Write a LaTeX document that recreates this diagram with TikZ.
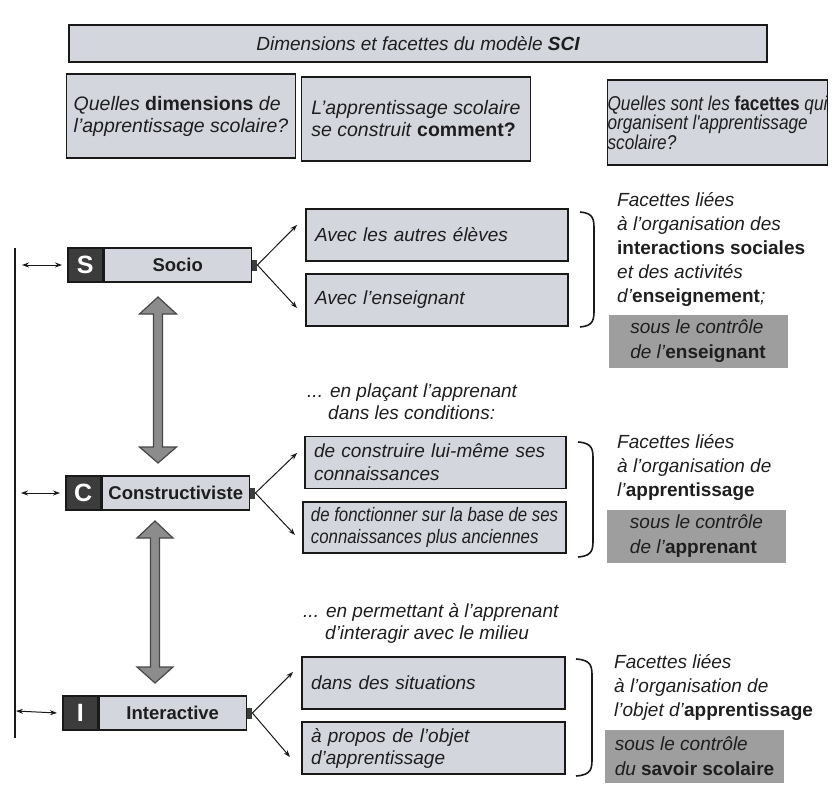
\documentclass[tikz,border=0pt]{standalone}
\usepackage{fontspec}
\setmainfont{Liberation Sans}
\newfontfamily\narrowfont[FakeStretch=0.86]{Liberation Sans}
\usetikzlibrary{positioning,arrows.meta}

\definecolor{boxfill}{RGB}{212,214,222}
\definecolor{boxline}{RGB}{25,25,25}
\definecolor{letterfill}{RGB}{60,60,60}
\definecolor{ctrlfill}{RGB}{158,158,158}
\definecolor{arrowfill}{RGB}{140,140,140}
\definecolor{ink}{RGB}{30,30,30}

\newcommand{\bup}[1]{\textup{\bfseries #1}}

\tikzset{
  base/.style={font=\fontsize{19}{24}\selectfont\itshape, text=ink},
  framed/.style={base, draw=boxline, line width=1.5pt, fill=boxfill, inner sep=0pt},
  titlebox/.style={framed, minimum width=698pt, minimum height=37pt},
  qbox/.style={framed, minimum width=229pt, minimum height=84pt, align=left, font=\fontsize{19.5}{22}\selectfont\itshape},
  letterbox/.style={draw=boxline, line width=1.5pt, fill=letterfill, minimum width=35pt, minimum height=34pt, inner sep=0pt, text=white, font=\fontsize{25}{25}\selectfont\bfseries, anchor=west},
  dimbox/.style={framed, minimum width=147pt, minimum height=34pt, font=\fontsize{18.5}{19}\selectfont\bfseries},
  notch/.style={fill=letterfill, minimum width=5pt, minimum height=11pt, inner sep=0pt},
  subbox/.style={framed, minimum height=52pt, inner xsep=9pt, align=left, font=\fontsize{19}{23}\selectfont\itshape},
  ctrlbox/.style={base, fill=ctrlfill, minimum width=179pt, minimum height=53pt, inner sep=0pt, align=left, font=\fontsize{19}{25}\selectfont\itshape},
  facette/.style={base, anchor=north west, inner sep=0pt, align=left},
  fork/.style={-{Stealth[length=7pt,width=5pt]}, line width=1pt, draw=boxline},
  side/.style={{Stealth[length=7pt,width=5pt]}-{Stealth[length=7pt,width=5pt]}, line width=1pt, draw=boxline},
  bracket/.style={line width=1.6pt, draw=boxline},
  bigarrow/.style={fill=arrowfill, draw=boxline!80, line width=1.2pt, line join=miter},
}

\begin{document}
\begin{tikzpicture}[x=1pt, y=-1pt]
  \useasboundingbox (0,0) rectangle (839,792);
  %%%%%%%%%%%%%%%%%%%%%%%%%%%%%%%% heading
  \node[titlebox] (title) at (418,43.5) {Dimensions et facettes du modèle \textbf{SCI}};
  \node[qbox] (qdim) at (181,116) {Quelles \bup{dimensions} de\\l'apprentissage scolaire?};
  \node[qbox] (qhow) at (416,119) {L'apprentissage scolaire\\se construit \bup{comment?}};
  \node[qbox, minimum width=219pt, minimum height=85pt, font=\fontsize{20}{17.5}\narrowfont\itshape] (qfac) at (717.5,122.5) {Quelles sont les \bup{facettes} qui\\organisent l'apprentissage\\scolaire?};
  %%%%%%%%%%%%%%%%%%%%%%%%%%%%%%%% left axis
  \coordinate (axtop) at (15,248);
  \coordinate (axbot) at (15,738);
  \draw[line width=1.5pt, draw=boxline] (axtop) -- (axbot);
  %%%%%%%%%%%%%%%%%%%%%%%%%%%%%%%% Socio
  \node[letterbox] (sL) at (67,265) {S};
  \node[dimbox, right=0pt of sL] (socio) {Socio};
  \node[notch, right=0pt of socio] (sN) {};
  \coordinate (sA) at (22,265);
  \draw[side] (sA) -- ([xshift=-5pt]sL.west);
  \node[subbox, text width=244pt] (s1) at (437,235) {Avec les autres élèves};
  \node[subbox, text width=244pt] (s2) at (437,300) {Avec l'enseignant};
  \coordinate (s1tip) at (297,225);
  \coordinate (s2tip) at (297,308);
  \draw[fork] (sN.east) -- (s1tip);
  \draw[fork] (sN.east) -- (s2tip);
  \draw[bracket] (580,212) .. controls (594,213) and (594,220) .. (594,230) -- (594,309) .. controls (594,319) and (594,326) .. (580,327);
  \node[facette] (sF) at (617,192) {Facettes liées\\à l'organisation des\\\bup{interactions sociales}\\et des activités\\d'\bup{enseignement};};
  \node[ctrlbox] (sK) at (698,341) {sous le contrôle\\de l'\bup{enseignant}};
  \draw[bigarrow] (158,297) -- (176.5,314) -- (162.5,314) -- (162.5,447) -- (176.5,447) -- (158,463) -- (139.5,447) -- (153.5,447) -- (153.5,314) -- (139.5,314) -- cycle;
  %%%%%%%%%%%%%%%%%%%%%%%%%%%%%%%% Constructiviste
  \node[facette, font=\fontsize{19}{22}\selectfont\itshape] (cCond) at (307,384) {... en plaçant l'apprenant\\\hspace*{21pt}dans les conditions:};
  \node[letterbox] (cL) at (65,493) {C};
  \node[dimbox, right=0pt of cL] (constr) {Constructiviste};
  \node[notch, right=0pt of constr] (cN) {};
  \coordinate (cA) at (21,493);
  \draw[side] (cA) -- ([xshift=-5pt]cL.west);
  \node[subbox, text width=243pt] (c1) at (435.5,462.5) {de construire lui-même ses\\connaissances};
  \node[subbox, inner xsep=5pt, minimum width=263pt, minimum height=51pt, font=\fontsize{19.5}{22}\narrowfont\itshape] (c2) at (434.5,527.5) {de fonctionner sur la base de ses\\connaissances plus anciennes};
  \coordinate (c1tip) at (297,453);
  \coordinate (c2tip) at (295,535);
  \draw[fork] (cN.east) -- (c1tip);
  \draw[fork] (cN.east) -- (c2tip);
  \draw[bracket] (578,442) .. controls (593,443) and (593,450) .. (593,460) -- (593,539) .. controls (593,549) and (593,556) .. (578,557);
  \node[facette] (cF) at (617,434) {Facettes liées\\à l'organisation de\\l'\bup{apprentissage}};
  \node[ctrlbox] (cK) at (696.5,536.5) {sous le contrôle\\de l'\bup{apprenant}};
  \draw[bigarrow] (155,521) -- (173,538) -- (159.5,538) -- (159.5,667) -- (173,667) -- (155,683) -- (137,667) -- (150.5,667) -- (150.5,538) -- (137,538) -- cycle;
  %%%%%%%%%%%%%%%%%%%%%%%%%%%%%%%% Interactive
  \node[facette, font=\fontsize{19}{22}\selectfont\itshape] (iCond) at (303,603) {... en permettant à l'apprenant\\\hspace*{22pt}d'interagir avec le milieu};
  \node[letterbox] (iL) at (62,713) {I};
  \node[dimbox, right=0pt of iL] (inter) {Interactive};
  \node[notch, right=0pt of inter] (iN) {};
  \coordinate (iA) at (16,711);
  \draw[side] (iA) -- ([xshift=-5pt]iL.west);
  \node[subbox, text width=245pt] (i1) at (433.5,683) {dans des situations};
  \node[subbox, text width=245pt, font=\fontsize{19}{22}\selectfont\itshape] (i2) at (433.5,748) {à propos de l'objet\\d'apprentissage};
  \coordinate (i1tip) at (293,672);
  \coordinate (i2tip) at (290,757);
  \draw[fork] (iN.east) -- (i1tip);
  \draw[fork] (iN.east) -- (i2tip);
  \draw[bracket] (576,659) .. controls (592,660) and (592,667) .. (592,677) -- (592,758) .. controls (592,768) and (592,775) .. (576,776);
  \node[facette] (iF) at (614,654) {Facettes liées\\à l'organisation de\\l'objet d'\bup{apprentissage}};
  \node[ctrlbox] (iK) at (694.5,756.5) {sous le contrôle\\du \bup{savoir scolaire}};
\end{tikzpicture}
\end{document}
